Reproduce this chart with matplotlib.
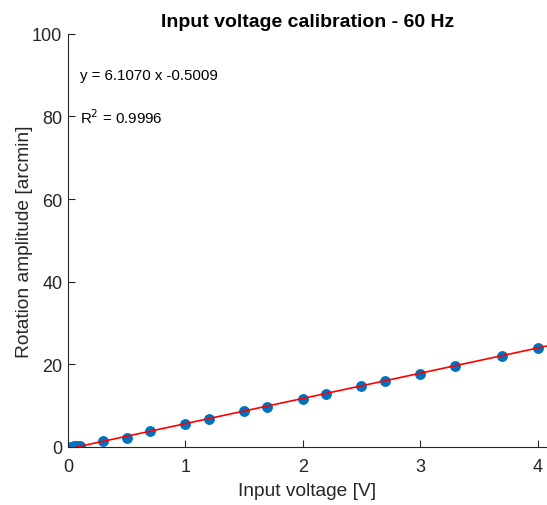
import matplotlib.pyplot as plt
import numpy as np

plt.rcParams['font.family'] = ['Liberation Sans', 'DejaVu Sans']

# measured calibration points
voltage = [0.03, 0.05, 0.08, 0.1, 0.3, 0.5, 0.7, 1.0, 1.2, 1.5, 1.7, 2.0, 2.2, 2.5, 2.7, 3.0, 3.3, 3.7, 4.0]
amplitude = [0.05, 0.1, 0.12, 0.15, 1.35, 2.15, 3.8, 5.6, 6.8, 8.7, 9.75, 11.65, 12.9, 14.7, 16.0, 17.75, 19.6, 22.1, 23.9]

slope = 6.1070
intercept = -0.5009
r2 = 0.9996

axis_col = '#262626'

fig = plt.figure(figsize=(5.47, 5.06), dpi=100)
ax = fig.add_axes([0.124, 0.115, 0.876, 0.816])

xfit = np.array([0.08, 4.3])
ax.plot(xfit, slope * xfit + intercept, color='red', linewidth=1.2, zorder=3)
ax.plot(voltage, amplitude, 'o', color='#0072BD', markersize=6.8, zorder=2)

ax.set_xlim(0, 4.08)
ax.set_ylim(0, 100)
ax.set_xticks([0, 1, 2, 3, 4])
ax.set_yticks([0, 20, 40, 60, 80, 100])

for s in ['top', 'right']:
    ax.spines[s].set_visible(False)
for s in ['left', 'bottom']:
    ax.spines[s].set_color(axis_col)
    ax.spines[s].set_linewidth(0.8)
ax.tick_params(direction='in', length=5, width=0.8, colors=axis_col, labelsize=13)
ax.tick_params(axis='x', pad=8)
ax.tick_params(axis='y', pad=4)

ax.set_xlabel('Input voltage [V]', fontsize=13.8, color=axis_col, labelpad=5)
ax.set_ylabel('Rotation amplitude [arcmin]', fontsize=13.8, color=axis_col, labelpad=-1)
ax.set_title('Input voltage calibration - 60 Hz', fontsize=14, fontweight='bold', pad=6)

ax.text(0.1, 90, f'y = {slope:.4f} x {intercept:.4f}', fontsize=10.8, va='center')
ax.text(0.1, 80, f'R$^2$ = {r2:.4f}', fontsize=10.8, va='center')

plt.savefig('out.png', dpi=100)
